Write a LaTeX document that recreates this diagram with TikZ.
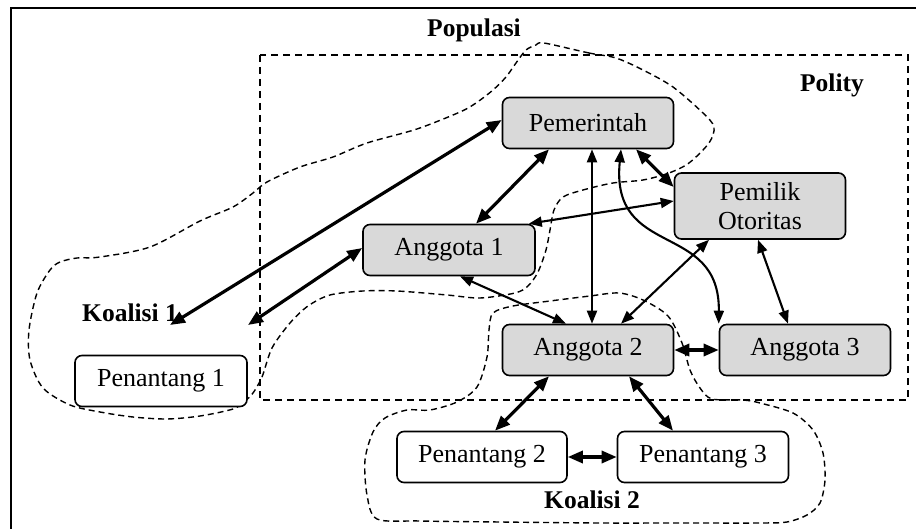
\documentclass[tikz,border=0pt]{standalone}
\usepackage{fontspec}
\setmainfont{Liberation Serif}
\usetikzlibrary{arrows.meta}
\begin{document}
\begin{tikzpicture}[x=1pt,y=-1pt,
  box/.style={draw, line width=1.6pt, rounded corners=7pt, minimum width=171pt,
    minimum height=51pt, inner sep=0pt, font=\fontsize{26}{29}\selectfont, align=center},
  member/.style={box, fill=gray!30},
  challenger/.style={box, fill=white},
  lbl/.style={font=\fontsize{25.5}{29}\selectfont\bfseries, inner sep=0pt, anchor=base},
  strong/.style={line width=3.2pt, {Triangle[length=15pt,width=12pt]}-{Triangle[length=15pt,width=12pt]}},
  weak/.style={line width=2.1pt, {Triangle[length=13pt,width=10pt]}-{Triangle[length=13pt,width=10pt]}},
  region/.style={line width=1.4pt, dash pattern=on 6pt off 4pt},
  border/.style={line width=1.6pt, dash pattern=on 7pt off 5pt},
]
\useasboundingbox (0,0) rectangle (916,529);

% outer frame
\draw[line width=2.4pt] (11,8) rectangle (925,540);

% polity
\draw[border] (260,55) rectangle (908,400);

% coalition 1 / population region
\draw[region] plot[smooth cycle, tension=0.5] coordinates {
  (544,43) (589,53) (616,58) (643,70) (673,87) (703,113) (714,127)
  (709,143) (689,163) (669,173) (643,180) (613,183) (583,190) (563,197)
  (554,210) (550,230) (546,250) (538,272) (528,286) (515,293) (480,298)
  (447,295) (397,291) (363,291) (330,295) (308,306) (290,323) (272,348)
  (262,377) (253,393) (245,401) (233,409) (200,416) (167,419) (133,417)
  (100,412) (70,405) (43,388) (30,360) (29,330) (37,293) (50,270) (60,262)
  (77,258) (100,257) (150,247) (200,221) (233,207) (253,193) (267,182)
  (300,167) (333,157) (367,143) (417,129) (460,112) (476,103) (493,90)
  (506,77) (516,63) (526,50) (536,45)};

% coalition 2 region
\draw[region] plot[smooth cycle, tension=0.5] coordinates {
  (493,313) (513,306) (550,301) (590,296) (619,293) (643,300) (668,316)
  (682,343) (690,370) (700,388) (712,399) (743,400) (760,403) (793,413)
  (813,430) (823,453) (825,480) (820,503) (807,515) (787,522) (760,523)
  (680,523) (600,523) (500,522) (420,521) (377,519) (367,495) (365,460)
  (373,432) (385,418) (407,410) (430,410) (457,402) (477,387) (487,357)
  (489,330)};

% actors
\node[member] (pem) at (588,123) {Pemerintah};
\node[member, minimum height=66pt] (po) at (760,206) {Pemilik\\Otoritas};
\node[member, minimum width=172pt] (a1) at (449,250) {Anggota 1};
\node[member] (a2) at (588,350) {Anggota 2};
\node[member] (a3) at (805,350) {Anggota 3};
\node[challenger, minimum width=172pt] (p1) at (161,381) {Penantang 1};
\node[challenger, minimum width=170pt] (p2) at (482,457) {Penantang 2};
\node[challenger] (p3) at (703,457) {Penantang 3};

% group labels
\node[lbl] (lpop) at (474,37) {Populasi};
\node[lbl] (lpol) at (832,92) {Polity};
\node[lbl] (lk1) at (130,322) {Koalisi 1};
\node[lbl] (lk2) at (592,508) {Koalisi 2};

\coordinate (k1end) at (170,325);
\coordinate (p1end) at (248,325);

% relations
\draw[strong] ([yshift=3pt]pem.west) -- (k1end);
\draw[strong] ([yshift=2pt]a1.west) -- (p1end);
\draw[strong] ([xshift=-39pt]pem.south) -- ([xshift=27pt]a1.north);
\draw[strong] ([xshift=48pt]pem.south) -- ([yshift=19pt]po.west);
\draw[weak] ([xshift=-7pt]a1.north east) -- ([yshift=5pt]po.west);
\draw[weak] ([xshift=4pt]pem.south) -- ([xshift=4pt]a2.north);
\draw[weak] ([xshift=33pt]pem.south) .. controls (610,260) and (720,220) .. (a3.north west);
\draw[weak] ([xshift=11pt]a1.south) -- ([xshift=-22pt]a2.north);
\draw[weak] ([xshift=-51pt]po.south) -- ([xshift=33pt]a2.north);
\draw[weak] ([xshift=-2pt]po.south) -- ([xshift=-17pt]a3.north);
\draw[strong] (a2) -- (a3);
\draw[strong] ([xshift=-39pt]a2.south) -- ([xshift=13pt]p2.north);
\draw[strong] ([xshift=41pt]a2.south) -- ([xshift=-30pt]p3.north);
\draw[strong] (p2) -- (p3);
\end{tikzpicture}
\end{document}
